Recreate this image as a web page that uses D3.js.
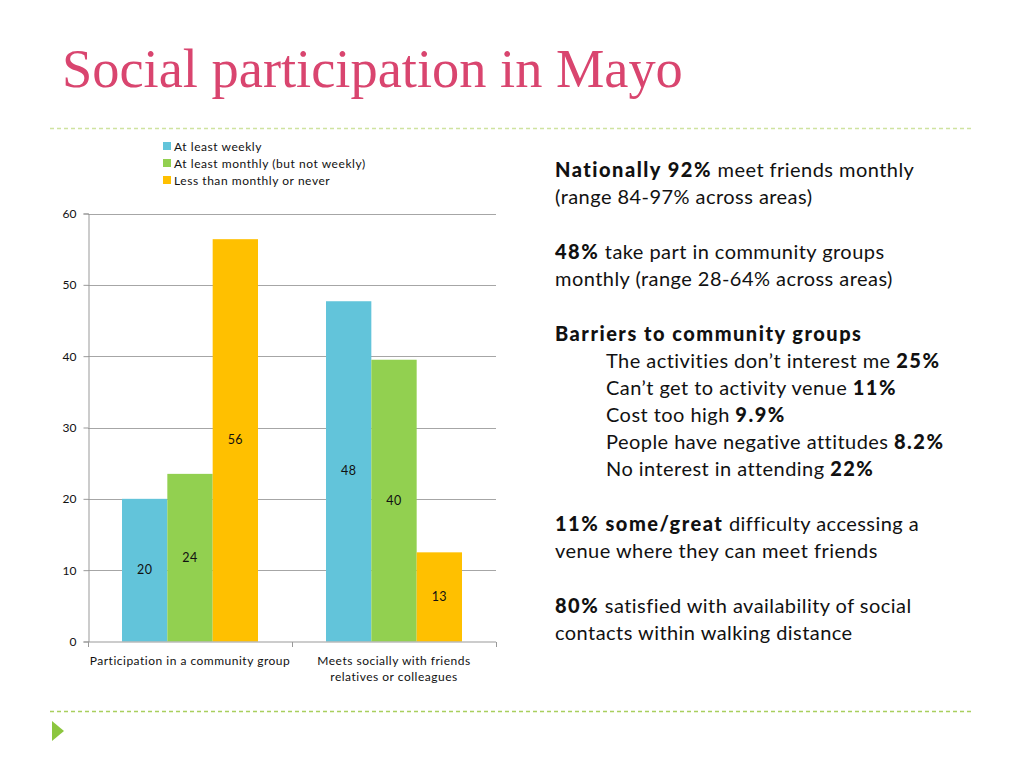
<!DOCTYPE html>
<html><head><meta charset="utf-8">
<script src="https://cdn.jsdelivr.net/npm/d3@7"></script>
<style>
body{margin:0;background:#fff;}
svg{display:block;}
text{font-variant-ligatures:none;}
</style></head>
<body>
<script>
// ---- data ----
const categories = ["Participation in a community group", "Meets socially with friends relatives or colleagues"];
const categoryLines = [["Participation in a community group"], ["Meets socially with friends", "relatives or colleagues"]];
const seriesNames = ["At least weekly", "At least monthly (but not weekly)", "Less than monthly or never"];
const weekly = [20.0, 47.7];
const monthly = [23.5, 39.5];
const lessThanMonthly = [56.4, 12.5];
const yTicks = [0, 10, 20, 30, 40, 50, 60];
const colors = ["#62c4da", "#92d050", "#ffc000"];
const title = "Social participation in Mayo";

const W = 1024, H = 768;
const svg = d3.select("body").append("svg").attr("width", W).attr("height", H);
const sans = "Lato, 'Open Sans', sans-serif";

// title
const t = svg.append("text").attr("x", 62).attr("y", 87)
  .attr("font-family", "'Liberation Serif', serif").attr("font-size", 46)
  .attr("fill", "#d9456f").text(title);
const tw = t.node().getComputedTextLength();
t.attr("font-size", 46 * 621 / tw);

// dashed rules
svg.append("line").attr("x1", 50).attr("x2", 972).attr("y1", 128.5).attr("y2", 128.5)
  .attr("stroke", "#cfe3a0").attr("stroke-width", 1.3).attr("stroke-dasharray", "4,3");
svg.append("line").attr("x1", 50).attr("x2", 972).attr("y1", 711.5).attr("y2", 711.5)
  .attr("stroke", "#a9cf5e").attr("stroke-width", 1.3).attr("stroke-dasharray", "4,3");
svg.append("path").attr("d", "M52,721 L64,731 L52,741 Z").attr("fill", "#8cc63f");

// chart
const plot = {left: 88, right: 496, top: 213.5, bottom: 641.5};
const y = d3.scaleLinear().domain([0, 60]).range([plot.bottom, plot.top]);
const x0 = d3.scaleBand().domain(categories).range([plot.left, plot.right]).padding(0);
const x1 = d3.scaleBand().domain(seriesNames).range([0, x0.bandwidth()]).paddingInner(0).paddingOuter(0.75);

const g = svg.append("g");
// gridlines
g.selectAll("line.grid").data(yTicks.filter(d => d > 0)).join("line")
  .attr("x1", plot.left).attr("x2", plot.right)
  .attr("y1", d => Math.round(y(d)) + 0.5).attr("y2", d => Math.round(y(d)) + 0.5)
  .attr("stroke", "#a6a6a6").attr("stroke-width", 1);

const rows = categories.map((c, i) => ({cat: c, vals: [weekly[i], monthly[i], lessThanMonthly[i]]}));
const grp = g.selectAll("g.cat").data(rows).join("g").attr("transform", d => `translate(${x0(d.cat)},0)`);
grp.selectAll("rect").data(d => d.vals.map((v, k) => ({v, k}))).join("rect")
  .attr("x", d => x1(seriesNames[d.k])).attr("width", x1.bandwidth())
  .attr("y", d => y(d.v)).attr("height", d => y(0) - y(d.v))
  .attr("fill", d => colors[d.k]);
grp.selectAll("text.lbl").data(d => d.vals.map((v, k) => ({v, k}))).join("text")
  .attr("x", d => x1(seriesNames[d.k]) + x1.bandwidth() / 2)
  .attr("y", d => (y(d.v) + y(0)) / 2 + 4)
  .attr("text-anchor", "middle").attr("font-family", sans).attr("font-size", 12.5).attr("fill", "#111")
  .attr("letter-spacing", 0.4)
  .text(d => Math.round(d.v));

// y axis
const yAxis = g.append("g").attr("transform", `translate(${plot.left + 0.5},0)`)
  .call(d3.axisLeft(y).tickValues(yTicks).tickSize(5).tickPadding(7));
yAxis.select(".domain").attr("stroke", "#999");
yAxis.selectAll(".tick line").attr("stroke", "#999");
yAxis.selectAll(".tick text").attr("font-family", sans).attr("font-size", 12).attr("fill", "#111");

// x axis
const xAxisG = g.append("g").attr("transform", `translate(0,${plot.bottom + 0.5})`);
xAxisG.append("line").attr("x1", plot.left).attr("x2", plot.right).attr("stroke", "#999");
const xTickPos = [plot.left, ...categories.map(c => x0(c) + x0.bandwidth())];
xAxisG.selectAll("line.tk").data(xTickPos).join("line")
  .attr("x1", d => Math.round(d) + 0.5).attr("x2", d => Math.round(d) + 0.5).attr("y1", 0).attr("y2", 5)
  .attr("stroke", "#999");
categories.forEach((c, i) => {
  const cx = x0(c) + x0.bandwidth() / 2;
  categoryLines[i].forEach((ln, j) => {
    xAxisG.append("text").attr("x", cx).attr("y", 23 + j * 16)
      .attr("text-anchor", "middle").attr("font-family", sans).attr("font-size", 12).attr("fill", "#111")
      .attr("letter-spacing", 0.5).text(ln);
  });
});

// legend
const lg = svg.append("g").attr("transform", "translate(163,142)");
seriesNames.forEach((s, i) => {
  lg.append("rect").attr("x", 0).attr("y", i * 17).attr("width", 8).attr("height", 8).attr("fill", colors[i]);
  lg.append("text").attr("x", 11).attr("y", i * 17 + 9).attr("font-family", sans).attr("font-size", 12).attr("fill", "#111")
    .attr("letter-spacing", 0.55).text(s);
});

// right text block
const lines = [
  {x: 555, y: 177, parts: [["Nationally 92%", 1], [" meet friends monthly", 0]]},
  {x: 555, y: 204, parts: [["(range 84-97% across areas)", 0]]},
  {x: 555, y: 259, parts: [["48%", 1], [" take part in community groups", 0]]},
  {x: 555, y: 286, parts: [["monthly (range 28-64% across areas)", 0]]},
  {x: 555, y: 341, parts: [["Barriers to community groups", 1]]},
  {x: 606, y: 368, parts: [["The activities don\u2019t interest me ", 0], ["25%", 1]]},
  {x: 606, y: 395, parts: [["Can\u2019t get to activity venue ", 0], ["11%", 1]]},
  {x: 606, y: 422, parts: [["Cost too high ", 0], ["9.9%", 1]]},
  {x: 606, y: 449, parts: [["People have negative attitudes ", 0], ["8.2%", 1]]},
  {x: 606, y: 476, parts: [["No interest in attending ", 0], ["22%", 1]]},
  {x: 555, y: 531, parts: [["11% some/great", 1], [" difficulty accessing a", 0]]},
  {x: 555, y: 558, parts: [["venue where they can meet friends", 0]]},
  {x: 555, y: 613, parts: [["80%", 1], [" satisfied with availability of social", 0]]},
  {x: 555, y: 640, parts: [["contacts within walking distance", 0]]}
];
const tb = svg.append("g");
lines.forEach(l => {
  const tx = tb.append("text").attr("x", l.x).attr("y", l.y).attr("font-family", sans).attr("font-size", 20).attr("fill", "#111");
  l.parts.forEach(p => tx.append("tspan")
    .attr("font-weight", p[1] ? 900 : "normal")
    .attr("letter-spacing", p[1] ? 1.5 : 0.45)
    .text(p[0]));
});
</script>
</body></html>
